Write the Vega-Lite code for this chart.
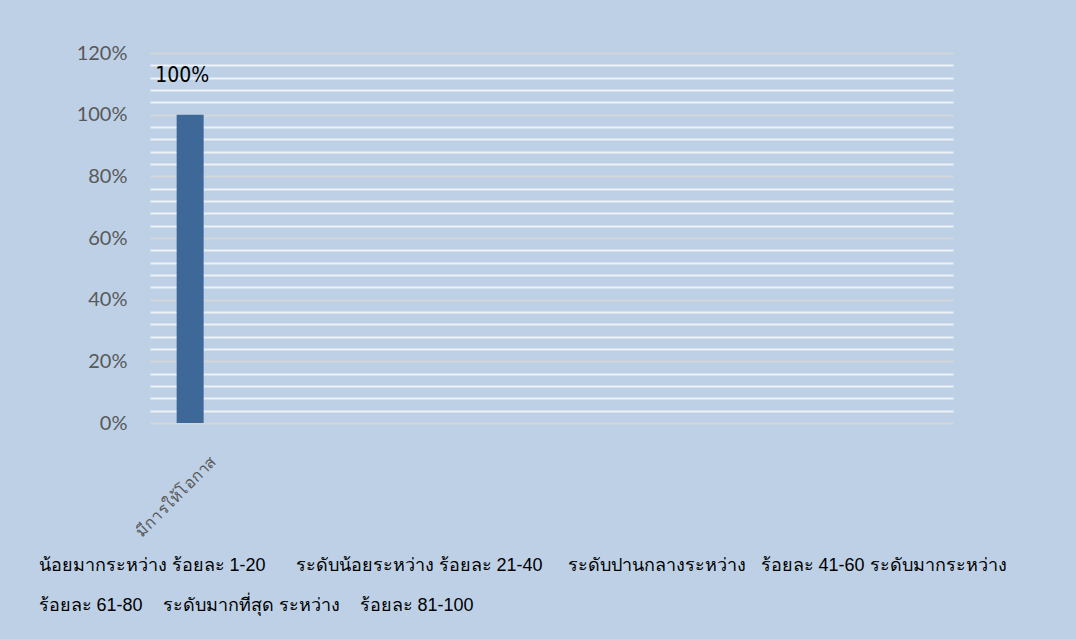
{
  "$schema": "https://vega.github.io/schema/vega-lite/v6.json",
  "width": 803,
  "height": 370,
  "autosize": {"type": "none"},
  "padding": {"left": 150, "top": 53, "right": 123, "bottom": 216},
  "background": "#bdd0e6",
  "config": {"view": {"stroke": null}},
  "data": {"values": [{"category": "มีการให้โอกาส", "percent": 1.0}]},
  "encoding": {
    "x": {
      "field": "category",
      "type": "nominal",
      "sort": null,
      "scale": {"domain": ["มีการให้โอกาส", "c2", "c3", "c4", "c5", "c6", "c7", "c8", "c9", "c10"], "paddingInner": 0.664, "paddingOuter": 0.332},
      "axis": {
        "labelExpr": "datum.value == 'มีการให้โอกาส' ? datum.label : ''",
        "labelAngle": -45,
        "labelFontSize": 16,
        "labelColor": "#595959",
        "labelPadding": 30,
        "labelOffset": 18,
        "ticks": false,
        "domain": false,
        "grid": false,
        "title": ["น้อยมากระหว่าง ร้อยละ 1-20\u00a0\u00a0\u00a0\u00a0\u00a0 ระดับน้อยระหว่าง ร้อยละ 21-40\u00a0\u00a0\u00a0\u00a0 ระดับปานกลางระหว่าง\u00a0\u00a0 ร้อยละ 41-60 ระดับมากระหว่าง", "ร้อยละ 61-80\u00a0\u00a0\u00a0 ระดับมากที่สุด ระหว่าง\u00a0\u00a0\u00a0 ร้อยละ 81-100"],
        "titleX": -112,
        "titleY": 142,
        "titleAlign": "left",
        "titleAnchor": "start",
        "titleBaseline": "middle",
        "titleLineHeight": 40,
        "titleFontSize": 18,
        "titleFontWeight": "normal",
        "titleColor": "#000000"
      }
    },
    "y": {
      "field": "percent",
      "type": "quantitative",
      "scale": {"domain": [0, 1.2], "nice": false},
      "axis": {
        "values": [0, 0.04, 0.08, 0.12, 0.16, 0.2, 0.24, 0.28, 0.32, 0.36, 0.4, 0.44, 0.48, 0.52, 0.56, 0.6, 0.64, 0.68, 0.72, 0.76, 0.8, 0.84, 0.88, 0.92, 0.96, 1.0, 1.04, 1.08, 1.12, 1.16, 1.2],
        "labelExpr": "round(datum.value * 100) % 20 == 0 ? format(datum.value, '.0%') : ''",
        "labelFont": "Lato",
        "labelFontSize": 20,
        "labelColor": "#595959",
        "labelPadding": 23,
        "ticks": false,
        "domain": false,
        "gridColor": {"condition": {"test": "round(datum.value * 100) % 20 == 0", "value": "#d4d6da"}, "value": "#eef2f7"},
        "gridWidth": 2,
        "title": null
      }
    }
  },
  "layer": [
    {"mark": {"type": "bar", "color": "#3e6898"}},
    {
      "mark": {"type": "text", "baseline": "bottom", "dy": -29, "dx": -8, "fontSize": 21, "font": "DejaVu Sans Condensed", "fontWeight": "normal", "color": "#000000"},
      "encoding": {"text": {"field": "percent", "type": "quantitative", "format": ".0%"}}
    }
  ]
}
